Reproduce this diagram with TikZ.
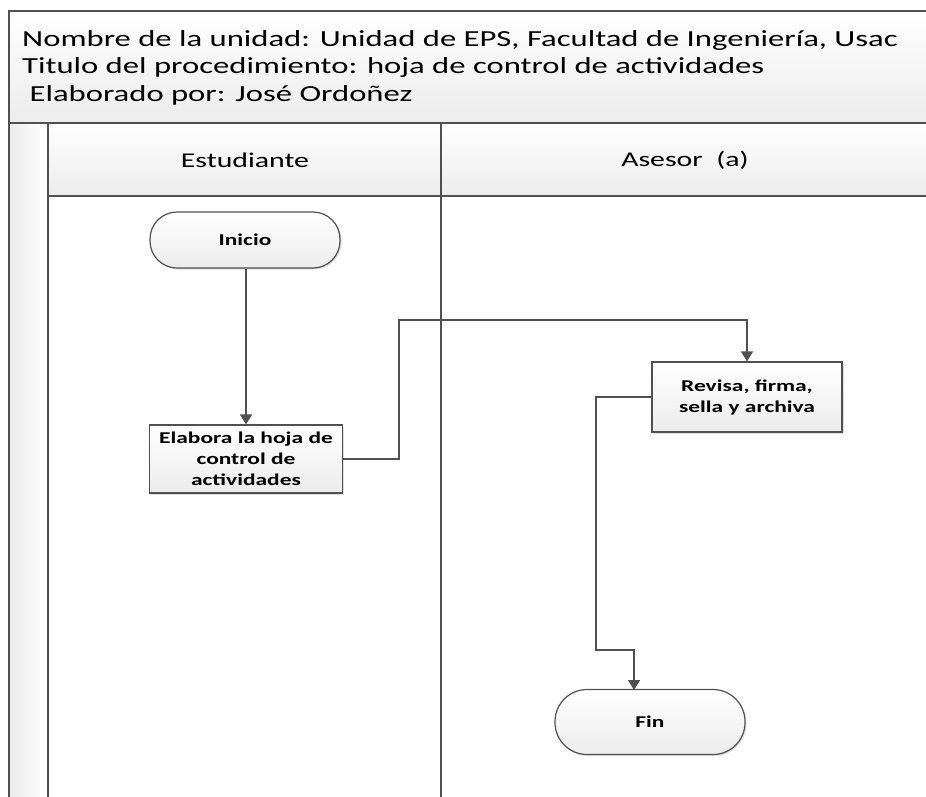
\documentclass[tikz,border=0pt]{standalone}
\usepackage{fontspec}
\setmainfont{Carlito}[FakeStretch=1.42]
\usetikzlibrary{arrows.meta,shadows}
\definecolor{lineC}{HTML}{505050}
\definecolor{hdrC}{HTML}{ECECEC}
\tikzset{
  frame/.style={draw=lineC,line width=1.2pt},
  flowbox/.style={draw=lineC,line width=1.2pt,top color=white,bottom color=hdrC,
    minimum width=193pt,minimum height=68pt,align=center,inner sep=2pt,
    font=\bfseries\fontsize{16.5}{21}\selectfont,
    drop shadow={shadow xshift=1.5pt,shadow yshift=-1.5pt,fill=black!25}},
  term/.style={draw=lineC,line width=1.2pt,top color=white,bottom color=hdrC,rounded corners=27pt,
    minimum width=190pt,minimum height=56pt,font=\bfseries\fontsize{16.5}{21}\selectfont,
    drop shadow={shadow xshift=1.5pt,shadow yshift=-1.5pt,fill=black!25}},
  arr/.style={draw=lineC,line width=1.6pt,-{Triangle[length=10pt,width=12pt]}},
  hdrtxt/.style={anchor=base west,inner sep=0pt,font=\fontsize{23}{27}\selectfont},
  lanetxt/.style={font=\fontsize{21}{25}\selectfont}
}
\begin{document}
\begin{tikzpicture}[x=1pt,y=-1pt]
\useasboundingbox (0,0) rectangle (926,796);
\clip (0,0) rectangle (926,796);
\fill[white] (0,0) rectangle (926,796);
% header band
\fill[top color=white,bottom color=hdrC] (9,11) rectangle (940,123);
% left strip
\fill[left color=hdrC,right color=white] (9,123) rectangle (48,810);
% lane header row
\fill[top color=white,bottom color=hdrC] (48,123) rectangle (940,196);
\draw[frame] (940,11) -- (9,11) -- (9,810);
\draw[frame] (9,123) -- (940,123);
\draw[frame] (48,123) -- (48,810);
\draw[frame] (48,196) -- (940,196);
\draw[frame] (441,123) -- (441,810);
% header text
\node[hdrtxt] (t1) at (22,46) {Nombre de la unidad: Unidad de EPS, Facultad de Ingeniería, Usac};
\node[hdrtxt] (t2) at (22,73) {Titulo del procedimiento: hoja de control de actividades};
\node[hdrtxt] (t3) at (22,101) {\ Elaborado por: José Ordoñez};
% lane titles
\node[lanetxt] (l1) at (245,160) {Estudiante};
\node[lanetxt] (l2) at (685,160) {Asesor\ \ (a)};
% nodes
\node[term] (inicio) at (245,240) {Inicio};
\node[flowbox] (elabora) at (246,459) {Elabora la hoja de\\control de\\actividades};
\node[flowbox,minimum width=190pt,minimum height=70pt] (revisa) at (747,397) {Revisa, firma,\\sella y archiva};
\node[term,minimum height=65pt,rounded corners=32pt] (fin) at (650,722) {Fin};
\coordinate (j1) at (399,320);
\coordinate (j2) at (596,650);
\coordinate (finin) at (634,690);
% connectors
\draw[arr] (inicio.south -| elabora.north) -- (elabora.north);
\draw[arr] (elabora.east) -| (j1) -| (revisa.north);
\draw[arr] (revisa.west) -| (j2) -| (finin);
\end{tikzpicture}
\end{document}
